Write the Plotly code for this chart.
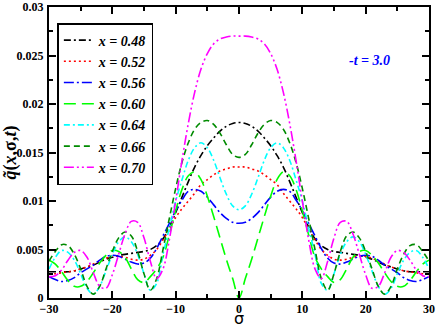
import plotly.graph_objects as go

# sigma grid and curves (-t = 3.0)
sigma = list(range(-30, 31))

q_048 = [0.0027, 0.0027, 0.0027, 0.0027, 0.0028, 0.0030, 0.0032, 0.0034, 0.0037, 0.0040,
         0.0042, 0.0044, 0.0045, 0.0046, 0.0047, 0.0048, 0.0050, 0.0054, 0.0061, 0.0073,
         0.0088, 0.0104, 0.0120, 0.0135, 0.0147, 0.0157, 0.0165, 0.0172, 0.0177, 0.0180,
         0.0181,
         0.0180, 0.0177, 0.0172, 0.0165, 0.0157, 0.0147, 0.0135, 0.0120, 0.0104, 0.0088,
         0.0073, 0.0061, 0.0054, 0.0050, 0.0048, 0.0047, 0.0046, 0.0045, 0.0044, 0.0042,
         0.0040, 0.0037, 0.0034, 0.0032, 0.0030, 0.0028, 0.0027, 0.0027, 0.0027, 0.0027]

q_052 = [0.0025, 0.0025, 0.0026, 0.0027, 0.0028, 0.0030, 0.0032, 0.0035, 0.0038, 0.0041,
         0.0043, 0.0043, 0.0042, 0.0040, 0.0039, 0.0040, 0.0044, 0.0050, 0.0060, 0.0071,
         0.0083, 0.0092, 0.0100, 0.0108, 0.0117, 0.0122, 0.0127, 0.0131, 0.0133, 0.0135,
         0.0135,
         0.0135, 0.0133, 0.0131, 0.0127, 0.0122, 0.0117, 0.0108, 0.0100, 0.0092, 0.0083,
         0.0071, 0.0060, 0.0050, 0.0044, 0.0040, 0.0039, 0.0040, 0.0042, 0.0043, 0.0043,
         0.0041, 0.0038, 0.0035, 0.0032, 0.0030, 0.0028, 0.0027, 0.0026, 0.0025, 0.0025]

q_056 = [0.0022, 0.0019, 0.0017, 0.0018, 0.0021, 0.0026, 0.0030, 0.0034, 0.0039, 0.0043,
         0.0044, 0.0043, 0.0040, 0.0037, 0.0035, 0.0036, 0.0041, 0.0051, 0.0064, 0.0077,
         0.0090, 0.0101, 0.0110, 0.0112, 0.0110, 0.0104, 0.0096, 0.0088, 0.0082, 0.0078,
         0.0077,
         0.0078, 0.0082, 0.0088, 0.0096, 0.0104, 0.0110, 0.0112, 0.0110, 0.0101, 0.0090,
         0.0077, 0.0064, 0.0051, 0.0041, 0.0036, 0.0035, 0.0037, 0.0040, 0.0043, 0.0044,
         0.0043, 0.0039, 0.0034, 0.0030, 0.0026, 0.0021, 0.0018, 0.0017, 0.0019, 0.0022]

q_060 = [0.0039, 0.0035, 0.0027, 0.0018, 0.0012, 0.0012, 0.0017, 0.0026, 0.0036, 0.0044,
         0.0049, 0.0048, 0.0042, 0.0030, 0.0019, 0.0016, 0.0022, 0.0030, 0.0042, 0.0065,
         0.0090, 0.0112, 0.0126, 0.0130, 0.0122, 0.0105, 0.0084, 0.0062, 0.0040, 0.0020,
         0.0000,
         0.0020, 0.0040, 0.0062, 0.0084, 0.0105, 0.0122, 0.0130, 0.0126, 0.0112, 0.0090,
         0.0065, 0.0042, 0.0030, 0.0022, 0.0016, 0.0019, 0.0030, 0.0042, 0.0048, 0.0049,
         0.0044, 0.0036, 0.0026, 0.0017, 0.0012, 0.0012, 0.0018, 0.0027, 0.0035, 0.0039]

q_064 = [0.0030, 0.0042, 0.0049, 0.0047, 0.0039, 0.0025, 0.0010, 0.0004, 0.0012, 0.0028,
         0.0045, 0.0058, 0.0063, 0.0058, 0.0045, 0.0025, 0.0008, 0.0015, 0.0045, 0.0072,
         0.0100, 0.0122, 0.0142, 0.0155, 0.0160, 0.0155, 0.0142, 0.0124, 0.0107, 0.0095,
         0.0091,
         0.0095, 0.0107, 0.0124, 0.0142, 0.0155, 0.0160, 0.0155, 0.0142, 0.0122, 0.0100,
         0.0072, 0.0045, 0.0015, 0.0008, 0.0025, 0.0045, 0.0058, 0.0063, 0.0058, 0.0045,
         0.0028, 0.0012, 0.0004, 0.0010, 0.0025, 0.0039, 0.0047, 0.0049, 0.0042, 0.0030]

q_066 = [0.0038, 0.0048, 0.0055, 0.0054, 0.0045, 0.0030, 0.0012, 0.0004, 0.0012, 0.0030,
         0.0048, 0.0062, 0.0068, 0.0064, 0.0048, 0.0025, 0.0008, 0.0020, 0.0050, 0.0082,
         0.0113, 0.0140, 0.0160, 0.0174, 0.0181, 0.0183, 0.0179, 0.0170, 0.0158, 0.0148,
         0.0145,
         0.0148, 0.0158, 0.0170, 0.0179, 0.0183, 0.0181, 0.0174, 0.0160, 0.0140, 0.0113,
         0.0082, 0.0050, 0.0020, 0.0008, 0.0025, 0.0048, 0.0064, 0.0068, 0.0062, 0.0048,
         0.0030, 0.0012, 0.0004, 0.0012, 0.0030, 0.0045, 0.0054, 0.0055, 0.0048, 0.0038]

q_070 = [0.0022, 0.0023, 0.0029, 0.0039, 0.0047, 0.0049, 0.0042, 0.0026, 0.0012, 0.0010,
         0.0024, 0.0045, 0.0066, 0.0079, 0.0078, 0.0062, 0.0038, 0.0020, 0.0030, 0.0060,
         0.0100, 0.0142, 0.0180, 0.0212, 0.0236, 0.0252, 0.0262, 0.0267, 0.0269, 0.0270,
         0.0270,
         0.0270, 0.0269, 0.0267, 0.0262, 0.0252, 0.0236, 0.0212, 0.0180, 0.0142, 0.0100,
         0.0060, 0.0030, 0.0020, 0.0038, 0.0062, 0.0078, 0.0079, 0.0066, 0.0045, 0.0024,
         0.0010, 0.0012, 0.0026, 0.0042, 0.0049, 0.0047, 0.0039, 0.0029, 0.0023, 0.0022]

labels = ['x = 0.48', 'x = 0.52', 'x = 0.56', 'x = 0.60', 'x = 0.64', 'x = 0.66', 'x = 0.70']
series = [q_048, q_052, q_056, q_060, q_064, q_066, q_070]

# grace-like colours and dash patterns
colors = ['#000000', '#FF0000', '#0000FF', '#00FF00', '#00FFFF', '#008B00', '#FF00FF']
dashes = ['7px,3px,2px,3px', '2px,3px', '10px,3px,2px,3px', '12px,6px',
          '6px,3px,2px,3px', '6px,4px', '10px,3px,2px,3px,2px,3px']

fig = go.Figure()
for name, vals, col, dsh in zip(labels, series, colors, dashes):
    fig.add_trace(go.Scatter(
        x=sigma, y=vals, mode='lines', line_shape='spline',
        name='<b><i>' + name + '</i></b>',
        line=dict(color=col, width=1.6, dash=dsh),
    ))

fig.add_annotation(x=20.6, y=0.0245, text='<b><i>-t = 3.0</i></b>', showarrow=False,
                   font=dict(color='#0000FF', size=14, family='Liberation Serif'))

# x axis title placed as an annotation so it sits just under the tick labels
fig.add_annotation(x=0.5, y=-0.071, xref='paper', yref='paper', text='σ', showarrow=False,
                   yanchor='middle', font=dict(family='DejaVu Sans', size=16, color='black'))

axis_style = dict(showline=True, linewidth=2, linecolor='black', mirror='allticks',
                  ticks='inside', ticklen=7, tickwidth=1.5, tickcolor='black',
                  showgrid=False, zeroline=False, automargin=False,
                  ticklabeloverflow='allow',
                  tickfont=dict(family='Liberation Serif', size=12, color='black', weight='bold'))

fig.update_xaxes(range=[-30, 30], dtick=10, tick0=-30,
                 minor=dict(ticks='inside', ticklen=4, dtick=5, tick0=-30, tickcolor='black'),
                 ticklabelstandoff=-1,
                 **axis_style)
fig.update_yaxes(range=[0, 0.03], dtick=0.005,
                 minor=dict(ticks='inside', ticklen=4, dtick=0.0025, tickcolor='black'),
                 title=dict(text='<b><i>q̃</i>(<i>x</i>,σ,<i>t</i>)</b>', standoff=2,
                            font=dict(family='Liberation Serif', size=18, color='black')),
                 ticklabelstandoff=1,
                 **axis_style)

fig.update_layout(
    width=436, height=327,
    margin=dict(l=49, r=7, t=7, b=29),
    paper_bgcolor='white', plot_bgcolor='white',
    showlegend=True,
    legend=dict(x=0.022, y=0.945, xanchor='left', yanchor='top',
                bgcolor='white', bordercolor='black', borderwidth=1.5,
                font=dict(family='Liberation Serif', size=14, color='black'),
                tracegroupgap=0, itemwidth=30),
)

# drop the browser's default body margin so the figure fills the window
fig.write_html("out.html", config={'displayModeBar': False},
               post_script="document.body.style.margin='0';")
